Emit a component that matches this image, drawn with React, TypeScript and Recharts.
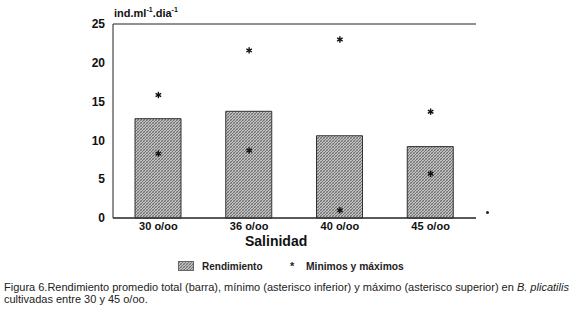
import React from "react";
import {
  ComposedChart,
  Bar,
  Scatter,
  XAxis,
  YAxis,
  CartesianGrid,
} from "recharts";

const categories = ["30 o/oo", "36 o/oo", "40 o/oo", "45 o/oo"];
const rendimiento = [12.8, 13.75, 10.6, 9.2];
const maximos = [15.85, 21.6, 23.0, 13.7];
const minimos = [8.3, 8.7, 1.0, 5.7];
const yTicks = [0, 5, 10, 15, 20, 25];

const data = categories.map((c, i) => ({
  cat: c,
  rend: rendimiento[i],
  max: maximos[i],
  min: minimos[i],
}));

const FONT = "'Liberation Sans', Arial, Helvetica, sans-serif";

const Asterisk = (props: any) => {
  const { cx, cy } = props;
  if (cx == null || cy == null) return null;
  const r = 3.2;
  const lines = [0, 60, 120].map((a) => {
    const rad = (a * Math.PI) / 180;
    const dx = Math.sin(rad) * r;
    const dy = Math.cos(rad) * r;
    return (
      <line
        key={a}
        x1={cx - dx}
        y1={cy - dy}
        x2={cx + dx}
        y2={cy + dy}
        stroke="#111"
        strokeWidth={1.4}
      />
    );
  });
  return <g>{lines}</g>;
};

const HatchPattern = ({ id }: { id: string }) => (
  <pattern id={id} width="3" height="3" patternUnits="userSpaceOnUse">
    <rect width="3" height="3" fill="#c2c2c2" />
    <path d="M0,3 L3,0" stroke="#4a4a4a" strokeWidth="0.7" />
    <path d="M0,0 L3,3" stroke="#7a7a7a" strokeWidth="0.5" />
  </pattern>
);

export default function App() {
  return (
    <div
      style={{
        position: "absolute",
        left: 0,
        top: 0,
        width: 575,
        height: 311,
        background: "#fff",
        fontFamily: FONT,
        overflow: "hidden",
      }}
    >
      <ComposedChart
        width={575}
        height={311}
        data={data}
        margin={{ top: 24, right: 99, bottom: 73, left: 0 }}
        barCategoryGap={0}
      >
        <defs>
          <HatchPattern id="hatch" />
        </defs>
        <CartesianGrid vertical={false} stroke="#222" strokeWidth={1} />
        <XAxis
          dataKey="cat"
          height={20}
          axisLine={{ stroke: "#222" }}
          tickLine={false}
          tickSize={0}
          tickMargin={4}
          tick={{ fill: "#111", fontSize: 11, fontWeight: 700, fontFamily: FONT }}
        />
        <YAxis
          yAxisId="left"
          width={113}
          domain={[0, 25]}
          ticks={yTicks}
          axisLine={{ stroke: "#222" }}
          tickLine={false}
          tickSize={0}
          tickMargin={8}
          tick={{ fill: "#111", fontSize: 12, fontWeight: 700, fontFamily: FONT }}
        />
        <YAxis
          yAxisId="right"
          orientation="right"
          width={0}
          domain={[0, 25]}
          ticks={yTicks}
          axisLine={{ stroke: "#222" }}
          tickLine={false}
          tick={false}
        />
        <Bar
          yAxisId="left"
          dataKey="rend"
          barSize={46}
          fill="url(#hatch)"
          stroke="#333"
          strokeWidth={1}
          isAnimationActive={false}
        />
        <Scatter
          yAxisId="left"
          dataKey="max"
          shape={<Asterisk />}
          isAnimationActive={false}
        />
        <Scatter
          yAxisId="left"
          dataKey="min"
          shape={<Asterisk />}
          isAnimationActive={false}
        />
      </ComposedChart>

      <div
        style={{
          position: "absolute",
          left: 114,
          top: 6,
          fontSize: 11,
          fontWeight: 700,
          color: "#111",
          whiteSpace: "nowrap",
        }}
      >
        ind.ml<sup style={{ fontSize: 7 }}>-1</sup>.dia<sup style={{ fontSize: 7 }}>-1</sup>
      </div>

      <div
        style={{
          position: "absolute",
          left: 245,
          top: 233,
          fontSize: 14,
          lineHeight: "16px",
          fontWeight: 700,
          color: "#111",
          whiteSpace: "nowrap",
        }}
      >
        Salinidad
      </div>

      <div
        style={{
          position: "absolute",
          left: 486,
          top: 211,
          width: 3,
          height: 3,
          borderRadius: 2,
          background: "#222",
        }}
      />

      <svg
        style={{ position: "absolute", left: 178, top: 261 }}
        width={16}
        height={10}
      >
        <defs>
          <HatchPattern id="hatch2" />
        </defs>
        <rect x={0.5} y={0.5} width={15} height={9} fill="url(#hatch2)" stroke="#666" />
      </svg>
      <div
        style={{
          position: "absolute",
          left: 202,
          top: 261,
          fontSize: 10,
          fontWeight: 700,
          color: "#222",
          whiteSpace: "nowrap",
        }}
      >
        Rendimiento
      </div>
      <div
        style={{
          position: "absolute",
          left: 290,
          top: 260,
          fontSize: 11,
          fontWeight: 700,
          color: "#222",
        }}
      >
        *
      </div>
      <div
        style={{
          position: "absolute",
          left: 306,
          top: 261,
          fontSize: 10.3,
          fontWeight: 700,
          color: "#222",
          whiteSpace: "nowrap",
        }}
      >
        Minimos y máximos
      </div>

      <div
        style={{
          position: "absolute",
          left: 4,
          top: 281,
          fontSize: 11,
          color: "#222",
          lineHeight: "12px",
          whiteSpace: "nowrap",
        }}
      >
        Figura 6.Rendimiento promedio total (barra), mínimo (asterisco inferior) y máximo (asterisco superior) en{" "}
        <i>B. plicatilis</i>
        <br />
        cultivadas entre 30 y 45 o/oo.
      </div>
    </div>
  );
}
